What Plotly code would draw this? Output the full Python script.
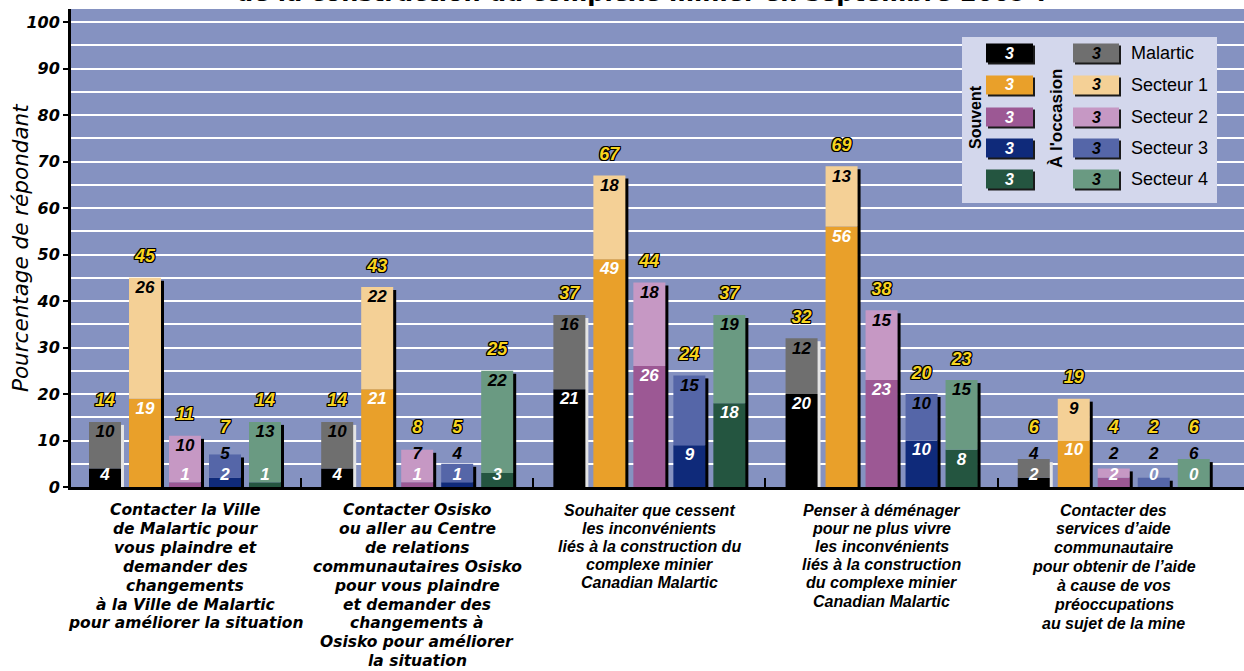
import plotly.graph_objects as go

# ---------------- data ----------------
category_lines = [
    ["Contacter la Ville", "de Malartic pour", "vous plaindre et", "demander des",
     "changements", "à la Ville de Malartic", "pour améliorer la situation"],
    ["Contacter Osisko", "ou aller au Centre", "de relations", "communautaires Osisko",
     "pour vous plaindre", "et demander des", "changements à", "Osisko pour améliorer",
     "la situation"],
    ["Souhaiter que cessent", "les inconvénients", "liés à la construction du",
     "complexe minier", "Canadian Malartic"],
    ["Penser à déménager", "pour ne plus vivre", "les inconvénients",
     "liés à la construction", "du complexe minier", "Canadian Malartic"],
    ["Contacter des", "services d’aide", "communautaire", "pour obtenir de l’aide",
     "à cause de vos", "préoccupations", "au sujet de la mine"],
]

series_names = ["Malartic", "Secteur 1", "Secteur 2", "Secteur 3", "Secteur 4"]

malartic_souvent = [4, 4, 21, 20, 2]
malartic_occasion = [10, 10, 16, 12, 4]
malartic_total = [14, 14, 37, 32, 6]

secteur1_souvent = [19, 21, 49, 56, 10]
secteur1_occasion = [26, 22, 18, 13, 9]
secteur1_total = [45, 43, 67, 69, 19]

secteur2_souvent = [1, 1, 26, 23, 2]
secteur2_occasion = [10, 7, 18, 15, 2]
secteur2_total = [11, 8, 44, 38, 4]

secteur3_souvent = [2, 1, 9, 10, 0]
secteur3_occasion = [5, 4, 15, 10, 2]
secteur3_total = [7, 5, 24, 20, 2]

secteur4_souvent = [1, 3, 18, 8, 0]
secteur4_occasion = [13, 22, 19, 15, 6]
secteur4_total = [14, 25, 37, 23, 6]

y_ticks = [0, 10, 20, 30, 40, 50, 60, 70, 80, 90, 100]

souvent = [malartic_souvent, secteur1_souvent, secteur2_souvent, secteur3_souvent, secteur4_souvent]
occasion = [malartic_occasion, secteur1_occasion, secteur2_occasion, secteur3_occasion, secteur4_occasion]
totals = [malartic_total, secteur1_total, secteur2_total, secteur3_total, secteur4_total]

# ---------------- styles ----------------
sv_colors = ["#000000", "#E9A02A", "#9C5894", "#0F2A7A", "#245540"]
occ_colors = ["#6F6F6F", "#F4D096", "#C698C4", "#5566A8", "#6A9A82"]
shadow_colors = ["#E4E4E4", "#000000", "#000000", "#000000", "#000000"]
PLOT_BG = "#8592C1"
LEGEND_BG = "#D3D7EC"
YELLOW = "#F8D41E"

W, H = 1244, 671
L, R, T, B = 71, 0, 9, 184
PW, PH = W - L - R, H - T - B
X_RANGE = [-0.491, 4.561]
Y_RANGE = [0, 102.8]
xunit = PW / (X_RANGE[1] - X_RANGE[0])   # px per category unit
yunit = PH / (Y_RANGE[1] - Y_RANGE[0])   # px per percent

pitch = 40 / xunit
bw = 32 / xunit
sw = 3.5 / xunit

NUMFONT = "Liberation Sans, Arial, sans-serif"
OUTLINE = "1px 1px 0 #000, -1px -1px 0 #000, 1px -1px 0 #000, -1px 1px 0 #000, 0 1px 0 #000, 0 -1px 0 #000, 1px 0 0 #000, -1px 0 0 #000"

fig = go.Figure()
ncat = len(category_lines)

for i in range(len(series_names)):
    xs = [c + (i - 2) * pitch for c in range(ncat)]
    # drop shadow
    fig.add_trace(go.Bar(
        x=[x + bw / 2 + sw / 2 - 0.5 / xunit for x in xs],
        y=[max(t - 3 / yunit, 0) for t in totals[i]],
        base=0, width=sw, marker=dict(color=shadow_colors[i], line=dict(width=0)),
        hoverinfo="skip", showlegend=False))
    # souvent
    fig.add_trace(go.Bar(
        x=xs, y=souvent[i], base=0, width=bw, name=series_names[i] + " souvent",
        marker=dict(color=sv_colors[i], line=dict(width=0)), showlegend=False))
    # à l'occasion
    fig.add_trace(go.Bar(
        x=xs, y=occasion[i], base=souvent[i], width=bw, name=series_names[i] + " à l'occasion",
        marker=dict(color=occ_colors[i], line=dict(width=0)), showlegend=False))

# labels
for i in range(len(series_names)):
    xs = [c + (i - 2) * pitch for c in range(ncat)]
    sv_y, occ_y, tot_y = [], [], []
    for c in range(ncat):
        s = max(souvent[i][c] - 2.3, 2.4)
        o = max(totals[i][c] - 2.4, s + 4.6)
        t = max(totals[i][c] + 4.3, o + 5.6)
        sv_y.append(s); occ_y.append(o); tot_y.append(t)
    fig.add_trace(go.Scatter(
        x=xs, y=sv_y, mode="text", text=[str(v) for v in souvent[i]],
        textfont=dict(family=NUMFONT, size=17, color="white", weight="bold", style="italic"),
        hoverinfo="skip", showlegend=False))
    fig.add_trace(go.Scatter(
        x=xs, y=occ_y, mode="text", text=[str(v) for v in occasion[i]],
        textfont=dict(family=NUMFONT, size=17, color="black", weight="bold", style="italic"),
        hoverinfo="skip", showlegend=False))
    fig.add_trace(go.Scatter(
        x=xs, y=tot_y, mode="text", text=[str(v) for v in totals[i]],
        textfont=dict(family=NUMFONT, size=18, color=YELLOW, weight="bold", style="italic",
                      shadow=OUTLINE),
        hoverinfo="skip", showlegend=False))

annotations = []
shapes = []

def px2x(px):
    return (px - L) / PW

def py2y(py):
    return (T + PH - py) / PH

# category labels (line by line for tight spacing)
group_fonts = ["DejaVu Sans", "DejaVu Sans", NUMFONT, NUMFONT, NUMFONT]
group_sizes = [15.5, 15.5, 16, 16, 16]
group_spacing = [18.9, 18.9, 18.2, 18.2, 18.9]
for c, lines in enumerate(category_lines):
    for j, line in enumerate(lines):
        annotations.append(dict(
            x=c, xref="x", y=0, yref="paper", yanchor="middle", xanchor="center",
            yshift=-(23 + j * group_spacing[c]), text=line, showarrow=False,
            font=dict(family=group_fonts[c], size=group_sizes[c], color="black",
                      weight="bold", style="italic")))

# y-axis title
annotations.append(dict(
    x=px2x(20), xref="paper", y=0.5, yref="paper", text="Pourcentage de répondant",
    textangle=-90, showarrow=False, xanchor="center", yanchor="middle",
    font=dict(family="DejaVu Sans", size=21.5, color="black", style="italic")))

# partially visible title (cut off at the top edge, as in the source)
annotations.append(dict(
    x=px2x(642), xref="paper", y=1, yref="paper", yanchor="bottom", yshift=-0.5,
    text="de la construction du complexe minier en septembre 2009 ?", showarrow=False,
    font=dict(family="DejaVu Sans", size=24, color="black", weight="bold")))

# custom legend
shapes.append(dict(type="rect", xref="paper", yref="paper",
                   x0=px2x(962), x1=px2x(1217), y0=py2y(203), y1=py2y(37),
                   fillcolor=LEGEND_BG, line=dict(width=0), layer="above"))
row_centers = [53, 85, 117, 148, 179]
col1 = (986, 1033)
col2 = (1073, 1119)
for r, cy in enumerate(row_centers):
    for (x0, x1), col, tcol in ((col1, sv_colors[r], "white"), (col2, occ_colors[r], "black")):
        shapes.append(dict(type="rect", xref="paper", yref="paper",
                           x0=px2x(x0 + 2), x1=px2x(x1 + 2), y0=py2y(cy + 9.5 + 2), y1=py2y(cy - 9.5 + 2),
                           fillcolor="#1a1a1a", line=dict(width=0), layer="above"))
        shapes.append(dict(type="rect", xref="paper", yref="paper",
                           x0=px2x(x0), x1=px2x(x1), y0=py2y(cy + 9.5), y1=py2y(cy - 9.5),
                           fillcolor=col, line=dict(width=0), layer="above"))
        annotations.append(dict(x=px2x((x0 + x1) / 2), y=py2y(cy), xref="paper", yref="paper",
                                text="3", showarrow=False, xanchor="center", yanchor="middle",
                                font=dict(family=NUMFONT, size=16, color=tcol, weight="bold",
                                          style="italic")))
    annotations.append(dict(x=px2x(1129), y=py2y(cy), xref="paper", yref="paper",
                            text=series_names[r], showarrow=False, xanchor="left", yanchor="middle",
                            font=dict(family=NUMFONT, size=18, color="black")))
annotations.append(dict(x=px2x(975), y=py2y(117), xref="paper", yref="paper", text="Souvent",
                        textangle=-90, showarrow=False, xanchor="center", yanchor="middle",
                        font=dict(family=NUMFONT, size=16, color="black", weight="bold")))
annotations.append(dict(x=px2x(1056), y=py2y(119), xref="paper", yref="paper", text="À l'occasion",
                        textangle=-90, showarrow=False, xanchor="center", yanchor="middle",
                        font=dict(family=NUMFONT, size=17, color="black", weight="bold")))

fig.update_layout(
    width=W, height=H, autosize=False,
    margin=dict(l=L, r=R, t=T, b=B, pad=0, autoexpand=False),
    paper_bgcolor="white", plot_bgcolor=PLOT_BG,
    barmode="overlay", showlegend=False,
    annotations=annotations, shapes=shapes,
    xaxis=dict(range=X_RANGE, showgrid=False, zeroline=False, showline=True, automargin=False,
               linecolor="black", linewidth=3, tickmode="array",
               tickvals=list(range(ncat)), ticktext=[""] * ncat, ticks="",
               minor=dict(tickmode="array", tickvals=[c + 0.5 for c in range(ncat - 1)],
                          ticks="inside", ticklen=9, tickwidth=2, tickcolor="black",
                          showgrid=False)),
    yaxis=dict(range=Y_RANGE, tickmode="array", tickvals=y_ticks, automargin=False,
               showgrid=True, gridcolor="white", gridwidth=1.6, zeroline=False,
               showline=True, linecolor="black", linewidth=3,
               ticks="outside", ticklen=5, tickwidth=2, tickcolor="black",
               tickfont=dict(family="DejaVu Sans", size=16, color="black",
                             weight="bold", style="italic"),
               minor=dict(dtick=5, showgrid=True, gridcolor="white", gridwidth=1.6)),
)

fig.write_html("out.html", config={"displayModeBar": False},
               post_script="document.body.style.margin='0';document.body.style.overflow='hidden';")
